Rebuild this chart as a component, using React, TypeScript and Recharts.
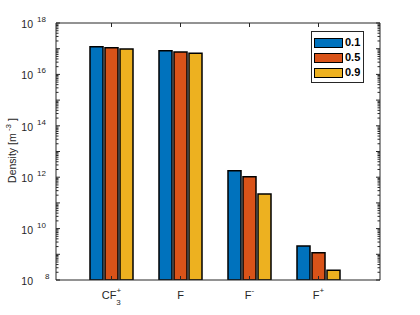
import React from 'react';
import { ComposedChart, Bar, Line, XAxis, YAxis } from 'recharts';

const categories = ['CF3+', 'F', 'F-', 'F+'];
const series01 = [1.2e17, 8.4e16, 1.8e12, 2.1e9];
const series05 = [1.1e17, 7.4e16, 1.05e12, 1.15e9];
const series09 = [9.7e16, 6.6e16, 2.2e11, 2.4e8];
const seriesNames = ['0.1', '0.5', '0.9'];
const majorTicks = [1e8, 1e10, 1e12, 1e14, 1e16, 1e18];

const COLORS = ['#0072BD', '#D95319', '#EDB120'];
const AXIS = '#262626';
const FONT = '"Liberation Sans", Arial, Helvetica, sans-serif';

// every decade plus the 2..9 sub-decade marks
const allTicks: number[] = [];
for (let k = 8; k < 18; k++) {
  for (let m = 1; m <= 9; m++) allTicks.push(m * Math.pow(10, k));
}
allTicks.push(1e18);

const data = categories.map((name, i) => ({
  name,
  s01: series01[i],
  s05: series05[i],
  s09: series09[i],
}));

const isMajor = (v: number) => majorTicks.some(t => Math.abs(t - v) / t < 1e-6);
const isDecade = (v: number) => {
  const e = Math.log10(v);
  return Math.abs(e - Math.round(e)) < 1e-6;
};

const LeftTick = (props: any) => {
  const { x, y, payload } = props;
  const v = payload.value;
  const len = isDecade(v) ? 4 : 2.5;
  const exp = Math.round(Math.log10(v));
  return (
    <g>
      <rect x={x} y={y - 0.5} width={len} height={1} fill={AXIS} />
      {isMajor(v) && (
        <g fontFamily={FONT} fill={AXIS}>
          <text x={x - 23} y={y + 5} textAnchor="end" fontSize={10.5}>10</text>
          <text x={x - (String(exp).length === 1 ? 11 : 19)} y={y - 1} textAnchor="start" fontSize={8}>{exp}</text>
        </g>
      )}
    </g>
  );
};

const RightTick = (props: any) => {
  const { x, y, payload } = props;
  const len = isDecade(payload.value) ? 4 : 2.5;
  return <rect x={x - len} y={y - 0.5} width={len} height={1} fill={AXIS} />;
};

const TopTick = (props: any) => {
  const { x, y } = props;
  return <rect x={x - 0.5} y={y} width={1} height={4} fill={AXIS} />;
};

const BottomTick = (props: any) => {
  const { x, y, payload } = props;
  const m = String(payload.value).match(/^([A-Za-z]+)(\d*)([+-]?)$/);
  const base = m ? m[1] : String(payload.value);
  const sub = m ? m[2] : '';
  const sup = m ? m[3] : '';
  return (
    <g>
      <rect x={x - 0.5} y={y - 4} width={1} height={4} fill={AXIS} />
      <text x={x} y={y + 19} textAnchor="middle" fontFamily={FONT} fontSize={11} fill={AXIS}>
        <tspan>{base}</tspan>
        {sup && <tspan fontSize={8} dy={-6}>{sup}</tspan>}
        {sub && <tspan fontSize={8} dx={sup ? -5 : 0} dy={sup ? 12 : 6}>{sub}</tspan>}
      </text>
    </g>
  );
};

const YLabel = (props: any) => {
  const vb = props.viewBox || {};
  const cy = (vb.y || 23) + (vb.height || 257) / 2 - 1;
  return (
    <text x={0} y={0} transform={`translate(16, ${cy}) rotate(-90)`} textAnchor="middle"
      fontFamily={FONT} fontSize={10.5} fill={AXIS}>
      <tspan>Density [m</tspan>
      <tspan fontSize={8} dy={-5}> -3</tspan>
      <tspan dy={5}> ]</tspan>
    </text>
  );
};

const LegendBox = () => (
  <div style={{
    position: 'absolute', left: 311, top: 31,
    border: `1px solid ${AXIS}`, background: '#fff', padding: '3px 3px 2px 2px',
    fontFamily: FONT, fontSize: 11, fontWeight: 'bold', color: '#000', lineHeight: '15px',
  }}>
    {seriesNames.map((n, i) => (
      <div key={n} style={{ display: 'flex', alignItems: 'center', height: 15 }}>
        <span style={{
          display: 'inline-block', width: 27, height: 8, background: COLORS[i],
          border: '1.5px solid #000', marginRight: 2,
        }} />
        <span>{n}</span>
      </div>
    ))}
  </div>
);

export default function App() {
  return (
    <div style={{ position: 'absolute', left: 0, top: 0, width: 420, height: 315, background: '#fff' }}>
      <ComposedChart width={420} height={315} data={data}
        margin={{ top: 22, right: 39, bottom: 5, left: 0 }} barSize={13} barGap={2}>
        <XAxis dataKey="name" height={30} axisLine={{ stroke: AXIS }} tickLine={false}
          tickSize={0} tickMargin={0} tick={<BottomTick />} interval={0}
          padding={{ left: 21, right: 27 }} />
        <XAxis xAxisId="top" dataKey="name" orientation="top" height={1} axisLine={{ stroke: AXIS }}
          tickLine={false} tickSize={0} tickMargin={0} tick={<TopTick />} interval={0}
          padding={{ left: 21, right: 27 }} />
        <YAxis scale="log" domain={[1e8, 1e18]} allowDataOverflow type="number" width={56}
          ticks={allTicks} interval={0} axisLine={{ stroke: AXIS }} tickLine={false}
          tickSize={0} tickMargin={0} tick={<LeftTick />} label={{ content: <YLabel /> }} />
        <YAxis yAxisId="right" orientation="right" scale="log" domain={[1e8, 1e18]} allowDataOverflow
          type="number" width={1} ticks={allTicks} interval={0} axisLine={{ stroke: AXIS }}
          tickLine={false} tickSize={0} tickMargin={0} tick={<RightTick />} />
        <Bar dataKey="s01" name={seriesNames[0]} fill={COLORS[0]} stroke="#000" strokeWidth={1.5} isAnimationActive={false} />
        <Bar dataKey="s05" name={seriesNames[1]} fill={COLORS[1]} stroke="#000" strokeWidth={1.5} isAnimationActive={false} />
        <Bar dataKey="s09" name={seriesNames[2]} fill={COLORS[2]} stroke="#000" strokeWidth={1.5} isAnimationActive={false} />
        {/* invisible series so the mirrored box axes get drawn */}
        <Line xAxisId="top" yAxisId="right" dataKey="s01" stroke="none" dot={false} activeDot={false}
          legendType="none" isAnimationActive={false} />
      </ComposedChart>
      <LegendBox />
    </div>
  );
}
